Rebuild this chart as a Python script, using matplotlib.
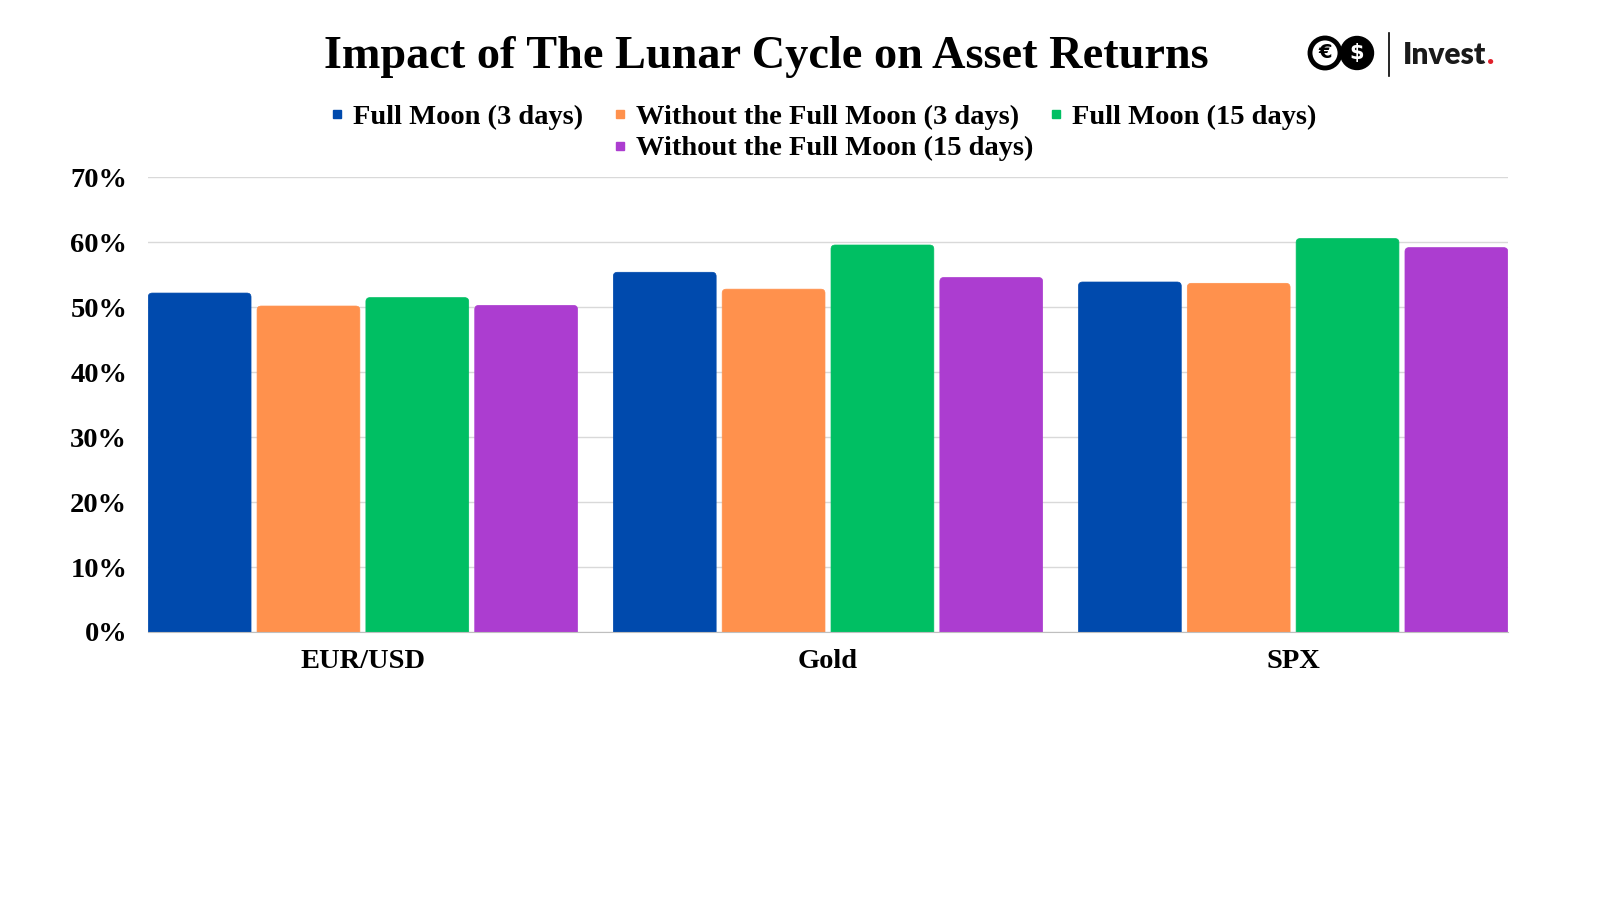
import numpy as np
import matplotlib.pyplot as plt
from matplotlib.patches import FancyBboxPatch, Ellipse
from matplotlib.lines import Line2D

# === DATA ===
assets = ['EUR/USD', 'Gold', 'SPX']
series = ['Full Moon (3 days)', 'Without the Full Moon (3 days)',
          'Full Moon (15 days)', 'Without the Full Moon (15 days)']
full_3 = [52.2, 55.4, 53.9]
without_3 = [50.2, 52.8, 53.7]
full_15 = [51.5, 59.6, 60.6]
without_15 = [50.3, 54.6, 59.2]
colors = ['#004AAD', '#FF914D', '#00BF63', '#AC3DD0']

# === MATPLOTLIB CONFIG ===
plt.rcParams.update({
    "font.family": "Liberation Serif",
    "font.weight": "bold",
    "font.size": 20,
})

fig = plt.figure(figsize=(16, 9), dpi=100)
ax = fig.add_axes([0.0925, 0.2978, 0.85, 0.505])

x = np.arange(len(assets))
step = 0.234
width = 0.221
values = [full_3, without_3, full_15, without_15]
for i, vals in enumerate(values):
    bars = ax.bar(x + (i - 1.5) * step, vals, width, color=colors[i], label=series[i])
    # swap plain bars for ones with rounded tops
    for b in bars:
        b.set_visible(False)
        rb = FancyBboxPatch((b.get_x(), -3), b.get_width(), b.get_height() + 3,
                            boxstyle="round,pad=0,rounding_size=0.009",
                            mutation_aspect=68, facecolor=colors[i],
                            edgecolor=colors[i], linewidth=0.5, zorder=3)
        ax.add_patch(rb)

ax.set_xlim(-0.462, 2.462)
ax.set_ylim(0, 70)
ax.set_yticks(np.arange(0, 71, 10))
ax.set_yticklabels([f"{v}%" for v in range(0, 71, 10)])
ax.set_xticks(x)
ax.set_xticklabels(assets)
ax.tick_params(axis='y', length=0, pad=15, labelsize=20.5)
ax.tick_params(axis='x', length=0, pad=12, labelsize=20.5)
ax.grid(axis='y', color='#d9d9d9', linewidth=1, zorder=0)
ax.set_axisbelow(True)
for s in ['top', 'right', 'left']:
    ax.spines[s].set_visible(False)
ax.spines['bottom'].set_color('#bfbfbf')
ax.spines['bottom'].set_zorder(4)

# === TITLE ===
fig.text(0.479, 0.937, 'Impact of The Lunar Cycle on Asset Returns',
         ha='center', va='center', fontsize=33.3, fontweight='bold')

# === LEGEND: three entries on the first row, the last one centred below ===
sq = lambda c: Line2D([], [], marker='s', linestyle='', color=c, markersize=6)
leg_kw = dict(loc='center', frameon=False, fontsize=20.5, handlelength=0.5,
              handletextpad=0.3, columnspacing=1.05, borderpad=0)
fig.legend([sq(colors[0]), sq(colors[1]), sq(colors[2])], series[:3], ncol=3,
           bbox_to_anchor=(0.5145, 1 - 117 / 900), **leg_kw)
fig.legend([sq(colors[3])], series[3:], ncol=1,
           bbox_to_anchor=(0.5145, 1 - 148.5 / 900), **leg_kw)

# === LOGO ===
cy = 1 - 53 / 900
fig.patches.append(Ellipse((1325 / 1600, cy), 30 / 1600, 30 / 900, transform=fig.transFigure,
                           facecolor='white', edgecolor='black', linewidth=3.5))
fig.text(1325 / 1600, cy, '€', ha='center', va='center', fontsize=14,
         fontweight='bold', family='DejaVu Sans')
fig.patches.append(Ellipse((1357 / 1600, cy), 33 / 1600, 33 / 900, transform=fig.transFigure,
                           facecolor='black', edgecolor='black'))
fig.text(1357 / 1600, cy, '$', ha='center', va='center', fontsize=15,
         fontweight='bold', family='DejaVu Sans', color='white')
fig.add_artist(Line2D([1389 / 1600, 1389 / 1600], [1 - 33 / 900, 1 - 76 / 900],
                      transform=fig.transFigure, color='black', linewidth=1.2))
inv = fig.text(1403 / 1600, 1 - 55 / 900, 'Invest', ha='left', va='center', fontsize=21.5,
               fontweight='heavy', family='Lato', color='#1a1a1a')
fig.canvas.draw()
bb = inv.get_window_extent()
fig.text(bb.x1 / 1600 + 1 / 1600, 1 - 55 / 900, '.', ha='left', va='center', fontsize=21.5,
         fontweight='heavy', family='Lato', color='#e0202a')

fig.savefig('out.png', dpi=100)
